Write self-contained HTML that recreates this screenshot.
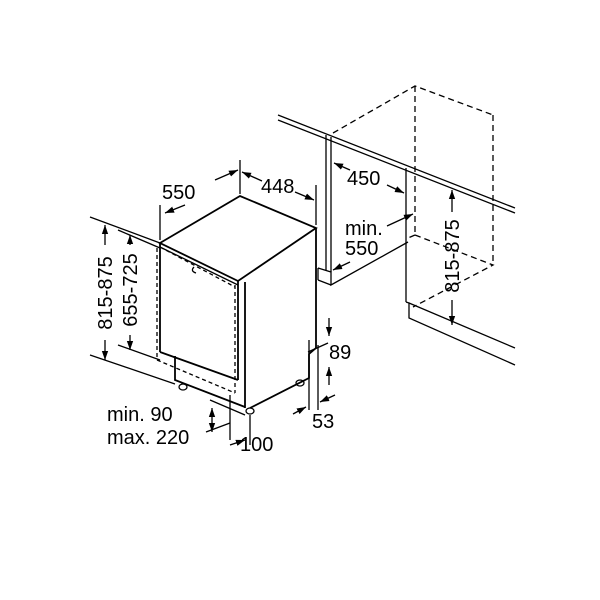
<!DOCTYPE html>
<html><head><style>body{margin:0;background:#fff}svg{display:block}text{font-family:"Liberation Sans",sans-serif;font-size:20px;fill:#000}</style></head>
<body>
<svg width="600" height="600" viewBox="0 0 600 600" xmlns="http://www.w3.org/2000/svg">
<defs><marker id="a" viewBox="0 0 10 10" refX="10" refY="5" markerWidth="7" markerHeight="7" orient="auto-start-reverse"><path d="M0,1.5L10,5L0,8.5z" fill="#000"/></marker></defs>
<g fill="none" stroke="#000" stroke-width="1.3">
<line x1="278" y1="115" x2="515" y2="208"/>
<line x1="278" y1="120" x2="515" y2="213"/>
<g stroke-dasharray="6,4">
<polyline points="333,133 415,86 493,115"/>
<line x1="415" y1="86" x2="415" y2="235"/>
<line x1="493" y1="115" x2="493" y2="265"/>
<polyline points="415,235 493,265 413,307"/>
<line x1="415" y1="235" x2="408" y2="238"/>
</g>
<line x1="326" y1="135" x2="326" y2="270"/>
<line x1="331" y1="137" x2="331" y2="272"/>
<polyline points="318,268 331,272 331,285 408,242"/>
<line x1="318" y1="268" x2="318" y2="280"/>
<line x1="318" y1="280" x2="331" y2="285"/>
<line x1="406" y1="168" x2="406" y2="302"/>
<polyline points="406,302 409,303 409,318 515,365"/>
<line x1="409" y1="303" x2="515" y2="348"/>
<g stroke-width="1.8">
<polygon points="160,243 240,196 316,228 238,281"/>
<line x1="160" y1="243" x2="160" y2="352"/>
<line x1="160" y1="352" x2="238" y2="380"/>
<line x1="238" y1="281" x2="238" y2="380"/>
<line x1="245" y1="282" x2="245" y2="408"/>
<line x1="316" y1="228" x2="316" y2="348"/>
<polyline points="316,348 309,354 309,378 250,408"/>
<polyline points="175,356 175,380 245,407"/>
</g>
<line x1="162" y1="248" x2="238" y2="285"/>
<g stroke-dasharray="4,3">
<polyline points="157,248 157,360 235,393"/>
<line x1="235" y1="285" x2="235" y2="393"/>
<line x1="160" y1="247" x2="235" y2="287"/>
</g>
<path d="M194,267 q-4,4 2,6"/>
<ellipse cx="183" cy="387" rx="4" ry="3"/><ellipse cx="250" cy="411" rx="4" ry="3"/><ellipse cx="300" cy="383" rx="4" ry="3"/>
<line x1="90" y1="217" x2="160" y2="243"/>
<line x1="90" y1="355" x2="175" y2="384"/>
<line x1="118" y1="230" x2="160" y2="248"/>
<line x1="118" y1="345" x2="160" y2="360"/>
<line x1="160" y1="205" x2="160" y2="240"/>
<line x1="240" y1="160" x2="240" y2="194"/>
<line x1="316" y1="185" x2="316" y2="225"/>
<line x1="210" y1="400" x2="245" y2="415"/>
<line x1="230" y1="395" x2="230" y2="440"/>
<line x1="250" y1="415" x2="250" y2="445"/>
<line x1="309" y1="340" x2="309" y2="410"/>
<line x1="318" y1="345" x2="318" y2="410"/>
<line x1="308" y1="352" x2="328" y2="343"/>
<line x1="105" y1="225" x2="105" y2="245" marker-start="url(#a)"/>
<line x1="105" y1="340" x2="105" y2="360" marker-end="url(#a)"/>
<line x1="130" y1="235" x2="130" y2="245" marker-start="url(#a)"/>
<line x1="130" y1="335" x2="130" y2="350" marker-end="url(#a)"/>
<line x1="165" y1="213" x2="185" y2="205" marker-start="url(#a)"/>
<line x1="215" y1="180" x2="238" y2="170" marker-end="url(#a)"/>
<line x1="242" y1="172" x2="262" y2="181" marker-start="url(#a)"/>
<line x1="295" y1="192" x2="314" y2="200" marker-end="url(#a)"/>
<line x1="334" y1="163" x2="350" y2="170" marker-start="url(#a)"/>
<line x1="387" y1="185" x2="404" y2="193" marker-end="url(#a)"/>
<line x1="387" y1="226" x2="413" y2="214" marker-end="url(#a)"/>
<line x1="350" y1="262" x2="333" y2="270" marker-end="url(#a)"/>
<line x1="452" y1="190" x2="452" y2="212" marker-start="url(#a)"/>
<line x1="452" y1="300" x2="452" y2="325" marker-end="url(#a)"/>
<line x1="329" y1="318" x2="329" y2="336" marker-end="url(#a)"/>
<line x1="329" y1="385" x2="329" y2="367" marker-end="url(#a)"/>
<line x1="293" y1="414" x2="306" y2="407" marker-end="url(#a)"/>
<line x1="335" y1="395" x2="320" y2="402" marker-end="url(#a)"/>
<line x1="212" y1="408" x2="212" y2="432" marker-start="url(#a)" marker-end="url(#a)"/>
<line x1="206" y1="432" x2="230" y2="423"/>
<line x1="230" y1="445" x2="245" y2="440" marker-end="url(#a)"/>
</g>
<text x="162" y="199">550</text>
<text x="261" y="193">448</text>
<text x="347" y="185">450</text>
<text x="345" y="235">min.</text>
<text x="345" y="255">550</text>
<text x="329" y="359">89</text>
<text x="312" y="428">53</text>
<text x="107" y="421">min. 90</text>
<text x="107" y="444">max. 220</text>
<text x="240" y="451">100</text>
<text transform="translate(112,293) rotate(-90)" text-anchor="middle">815-875</text>
<text transform="translate(137,290) rotate(-90)" text-anchor="middle">655-725</text>
<text transform="translate(459,256) rotate(-90)" text-anchor="middle">815-875</text>
</svg>
</body></html>
